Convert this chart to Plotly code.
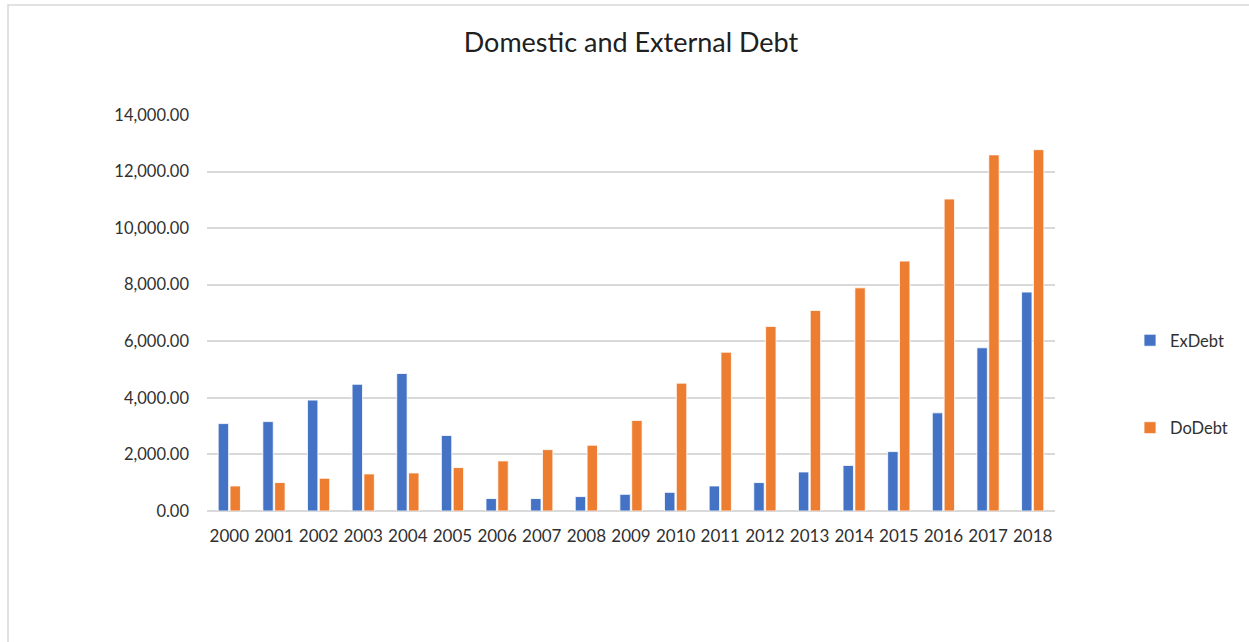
import plotly.graph_objects as go

years = [str(y) for y in range(2000, 2019)]
ex_debt = [3090, 3160, 3920, 4480, 4860, 2670, 440, 440, 510, 590, 660, 885, 1005,
           1380, 1610, 2100, 3470, 5770, 7740]
do_debt = [885, 1005, 1157, 1310, 1345, 1535, 1770, 2170, 2325, 3200, 4520, 5615, 6525,
           7090, 7890, 8835, 11030, 12590, 12775]

W, H = 1249, 642
L, R, T, B = 207, 1055, 115, 511

fig = go.Figure()
fig.add_trace(go.Bar(x=years, y=ex_debt, name="ExDebt", marker_color="#4472C4",
                     marker_line=dict(color="white", width=0.8), legendgroup="a"))
fig.add_trace(go.Bar(x=years, y=do_debt, name="DoDebt", marker_color="#ED7D31",
                     marker_line=dict(color="white", width=0.8), legendgroup="b"))

def px_x(p):
    return (p - L) / (R - L)

def px_y(p):
    return (B - p) / (B - T)

fig.add_shape(type="rect", xref="paper", yref="paper",
              x0=px_x(8), x1=px_x(1260), y0=px_y(660), y1=px_y(5),
              line=dict(color="#d9d9d9", width=1.5), fillcolor="rgba(0,0,0,0)", layer="below")

fig.update_layout(
    width=W, height=H,
    margin=dict(l=L, r=W - R, t=T, b=H - B),
    paper_bgcolor="white", plot_bgcolor="white",
    barmode="group", bargap=0.47, bargroupgap=0.12,
    font=dict(family="Lato, Open Sans, sans-serif", color="#404040", size=16),
    title=dict(text="Domestic and External Debt", x=0.5, xref="paper", xanchor="center",
               y=1 - 43 / H, yanchor="middle",
               font=dict(size=27, color="#202020")),
    legend=dict(x=px_x(1130), y=px_y(323), xanchor="left", yanchor="top",
                traceorder="grouped", tracegroupgap=63, itemwidth=30,
                font=dict(size=16.5, color="#303030")),
    showlegend=True,
)
fig.update_xaxes(type="category", showgrid=False, showline=False, ticks="",
                 ticklabelstandoff=13, tickfont=dict(size=17, color="#303030"))
fig.update_yaxes(range=[0, 14000], dtick=2000, tickformat=",.2f", showgrid=True,
                 gridcolor="#d9d9d9", gridwidth=1.5, zeroline=True, zerolinecolor="#d9d9d9",
                 zerolinewidth=1.5, showline=False, ticks="", ticklabelstandoff=17,
                 tickfont=dict(size=16.5, color="#303030"))

fig.write_html("out.html")
